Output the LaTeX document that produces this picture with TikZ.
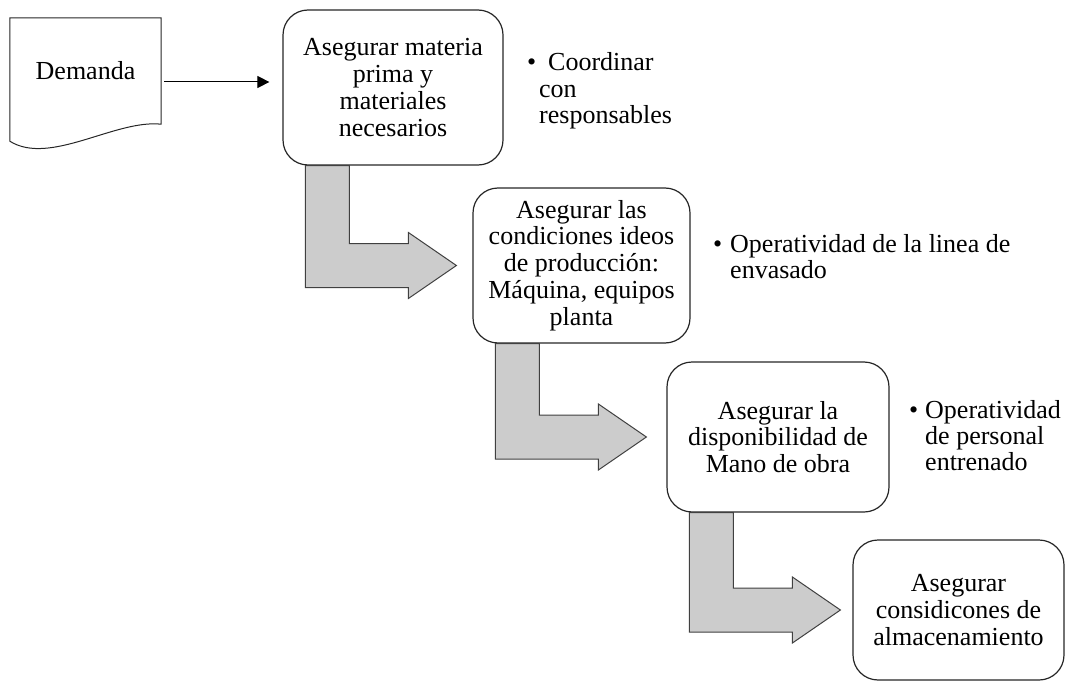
\documentclass[tikz,border=0pt]{standalone}
\usepackage{fontspec}
\setmainfont{Liberation Serif}
\usetikzlibrary{arrows.meta,calc}
\tikzset{
  txt/.style={font=\fontsize{26}{26.8}\selectfont},
  stage/.style={txt, draw=black!85, line width=1.2pt, rounded corners=25pt,
    align=center, inner sep=2pt},
  blockarrow/.style={draw=black!75, line width=1pt, fill=black!20, line join=miter},
  note/.style={txt, anchor=base west, inner sep=0pt},
  docshape/.style={draw=black!85, line width=1pt},
  flow/.style={draw=black, line width=1pt, -{Triangle[length=12pt,width=12pt]}}
}
% L-shaped block arrow: down from the box above, then right towards the next box
\newcommand\bentarrow[2]{%
  \path[blockarrow] let \p1=([xshift=23pt]#1.south west), \p2=(#2.west) in
    (\x1,\y1) -- (\x1+44pt,\y1) -- (\x1+44pt,\y2+22pt) -- (\x1+103pt,\y2+22pt)
    -- (\x1+103pt,\y2+33pt) -- (\x1+151pt,\y2) -- (\x1+103pt,\y2-33pt)
    -- (\x1+103pt,\y2-22pt) -- (\x1,\y2-22pt) -- cycle;}
\begin{document}
\begin{tikzpicture}[x=1pt,y=-1pt]
\useasboundingbox (0,0) rectangle (1066,682);

% document symbol
\node[txt, minimum width=151pt, minimum height=106pt, inner sep=0pt] (dem) at (85.5,71) {Demanda};
\draw[docshape] (dem.north west) -- (dem.north east) -- (dem.south east)
  .. controls ($(dem.south east)+(-46,-5)$) and ($(dem.south west)+(40,42)$) ..
  ($(dem.south west)+(0,17)$) -- cycle;

% stages
\node[stage, minimum width=220pt, minimum height=155pt] (s1) at (393,87.5)
  {Asegurar materia\\prima y\\materiales\\necesarios};
\node[stage, minimum width=217pt, minimum height=155pt] (s2) at (581.5,265.5)
  {Asegurar las\\condiciones ideos\\de producción:\\Máquina, equipos\\planta};
\node[stage, minimum width=222pt, minimum height=150pt] (s3) at (778,437)
  {Asegurar la\\disponibilidad de\\Mano de obra};
\node[stage, minimum width=211pt, minimum height=140pt] (s4) at (958.5,610)
  {Asegurar\\considicones de\\almacenamiento};

% flow
\draw[flow] ($(dem.east)+(3,11)$) -- ($(s1.west)+(-13,-5.5)$);
\bentarrow{s1}{s2}
\bentarrow{s2}{s3}
\bentarrow{s3}{s4}

% notes
\node[note] (n1d) at (527,71) {•};
\node[note] (n1a) at (548,71) {Coordinar};
\node[note] (n1b) at (539,97.5) {con};
\node[note] (n1c) at (539,124) {responsables};

\node[note] (n2d) at (713,252) {•};
\node[note] (n2a) at (730,252) {Operatividad de la linea de};
\node[note] (n2b) at (730,278.5) {envasado};

\node[note] (n3d) at (909,418) {•};
\node[note] (n3a) at (925,418) {Operatividad};
\node[note] (n3b) at (925,444) {de personal};
\node[note] (n3c) at (925,470) {entrenado};
\end{tikzpicture}
\end{document}
